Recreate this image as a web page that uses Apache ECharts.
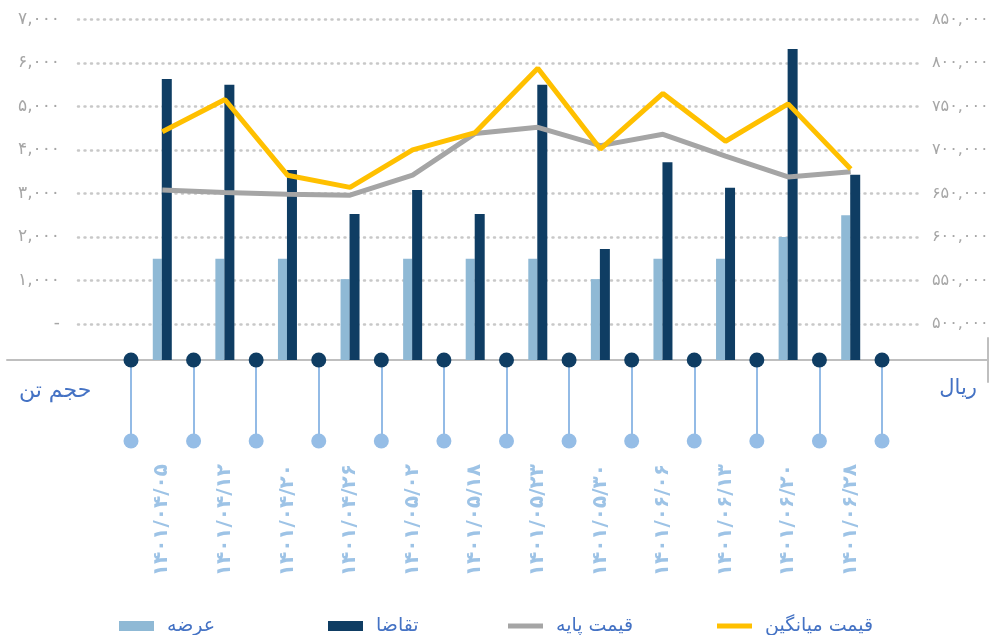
<!DOCTYPE html>
<html>
<head>
<meta charset="utf-8">
<script src="https://cdn.jsdelivr.net/npm/echarts@6/dist/echarts.min.js"></script>
<style>html,body{margin:0;padding:0;background:#fff;}#c{width:995px;height:635px;}</style>
</head>
<body>
<div id="c"></div>
<script>
const categories = ['۱۴۰۱/۰۴/۰۵','۱۴۰۱/۰۴/۱۲','۱۴۰۱/۰۴/۲۰','۱۴۰۱/۰۴/۲۶','۱۴۰۱/۰۵/۰۲','۱۴۰۱/۰۵/۱۸','۱۴۰۱/۰۵/۲۳','۱۴۰۱/۰۵/۳۰','۱۴۰۱/۰۶/۰۶','۱۴۰۱/۰۶/۱۳','۱۴۰۱/۰۶/۲۰','۱۴۰۱/۰۶/۲۸'];
const supply = [1500,1500,1500,1030,1500,1500,1500,1030,1500,1500,2000,2500];
const demand = [5630,5500,3540,2530,3080,2530,5500,1720,3720,3130,6320,3430];
const basePrice = [654000,651000,649000,648000,671000,719000,726000,705000,718000,693000,669000,675000];
const avgPrice = [721000,758000,671000,657000,700000,720000,794000,701000,765000,710000,753000,678000];
const seriesNames = ['عرضه','تقاضا','قیمت پایه','قیمت میانگین'];
const leftTitle = 'حجم تن';
const rightTitle = 'ریال';
// decoration slots at category boundaries (0..12)
const tickSlots = [0,1,2,3,4,5,6,7,8,9,10,11,12];

const FONT = 'DejaVu Sans';
const fa = s => String(s).replace(/\d/g, d => '۰۱۲۳۴۵۶۷۸۹'[+d]);
const LMIN = -830, LMAX = 7000, RMIN = 458500, RMAX = 850000;

const chart = echarts.init(document.getElementById('c'), null, {renderer: 'canvas'});
const gridTop = 19.5, gridBottom = 275;
const legendCommon = {
  orient: 'horizontal', top: 608, itemWidth: 35, itemHeight: 10, icon: 'rect',
  textStyle: {color: '#4472c4', fontSize: 19, fontFamily: FONT, lineHeight: 26, padding: [0,0,0,8]},
  selectedMode: false
};
chart.setOption({
  animation: false,
  backgroundColor: '#ffffff',
  textStyle: {fontFamily: FONT},
  title: [
    {text: leftTitle, left: 14, top: 375, textStyle: {color: '#4472c4', fontSize: 22, fontWeight: 'normal', fontFamily: FONT}},
    {text: rightTitle, right: 13, top: 373, textStyle: {color: '#4472c4', fontSize: 21, fontWeight: 'normal', fontFamily: FONT}}
  ],
  legend: [
    Object.assign({}, legendCommon, {left: 114, data: [seriesNames[0]]}),
    Object.assign({}, legendCommon, {left: 323, data: [seriesNames[1]]}),
    Object.assign({}, legendCommon, {left: 503, itemHeight: 5, data: [seriesNames[2]]}),
    Object.assign({}, legendCommon, {left: 712, itemHeight: 5, data: [seriesNames[3]]})
  ],
  grid: [
    {left: 78, right: 73, top: gridTop, bottom: gridBottom},
    {left: 131, right: 113, top: gridTop, bottom: gridBottom},
    {left: 131, right: 113, top: 360, height: 81},
    {left: 7, right: 7, top: 338, height: 44}
  ],
  xAxis: [
    {type: 'category', gridIndex: 1, data: categories, boundaryGap: true,
     axisLine: {show: false, onZero: false},
     axisTick: {show: true, alignWithLabel: false, length: 81, lineStyle: {color: '#93bbe6', width: 2}},
     axisLabel: {rotate: 90, margin: 104, color: '#9dc3e6', fontSize: 20, fontWeight: 'bold', fontFamily: FONT, interval: 0},
     splitLine: {show: false}},
    {type: 'value', gridIndex: 0, min: 0, max: 1, show: false},
    {type: 'value', gridIndex: 2, min: 0, max: 12, show: false},
    {type: 'value', gridIndex: 3, min: 0, max: 1, position: 'bottom', offset: -22,
     axisLine: {show: true, onZero: false, lineStyle: {color: '#bfbfbf', width: 2}},
     axisTick: {show: false}, axisLabel: {show: false}, splitLine: {show: false}}
  ],
  yAxis: [
    {type: 'value', gridIndex: 0, position: 'left', min: LMIN, max: LMAX, minInterval: 1000, maxInterval: 1000,
     axisLine: {show: false}, axisTick: {show: false},
     axisLabel: {margin: 18, color: '#a6a6a6', fontSize: 17, fontFamily: FONT,
       formatter: v => v < 0 ? '' : (v === 0 ? '-' : fa(v.toLocaleString('en-US')))},
     splitLine: {show: true, showMinLine: false, lineStyle: {type: [1, 5.5], width: 2.5, cap: 'round', color: '#c8c8c8'}}},
    {type: 'value', gridIndex: 0, position: 'right', min: RMIN, max: RMAX, minInterval: 50000, maxInterval: 50000,
     axisLine: {show: false}, axisTick: {show: false},
     axisLabel: {margin: 10, color: '#a6a6a6', fontSize: 16, fontFamily: FONT,
       formatter: v => v < 500000 ? '' : fa(v.toLocaleString('en-US'))},
     splitLine: {show: false}},
    {type: 'value', gridIndex: 1, min: LMIN, max: LMAX, startValue: LMIN, show: false},
    {type: 'value', gridIndex: 1, min: RMIN, max: RMAX, show: false},
    {type: 'value', gridIndex: 2, min: 0, max: 1, show: false},
    {type: 'value', gridIndex: 3, min: 0, max: 1, position: 'right',
     axisLine: {show: true, onZero: false, lineStyle: {color: '#bfbfbf', width: 2}},
     axisTick: {show: false}, axisLabel: {show: false}, splitLine: {show: false}}
  ],
  series: [
    {name: seriesNames[0], type: 'bar', xAxisIndex: 0, yAxisIndex: 2, data: supply,
     barWidth: 9, barGap: '0%', itemStyle: {color: '#8fb9d5'}, z: 2},
    {name: seriesNames[1], type: 'bar', xAxisIndex: 0, yAxisIndex: 2, data: demand,
     barWidth: 10, barGap: '0%', itemStyle: {color: '#0f3d63'}, z: 2},
    {name: seriesNames[2], type: 'line', xAxisIndex: 0, yAxisIndex: 3, data: basePrice,
     symbol: 'none', lineStyle: {color: '#a5a5a5', width: 5}, itemStyle: {color: '#a5a5a5'}, z: 3},
    {name: seriesNames[3], type: 'line', xAxisIndex: 0, yAxisIndex: 3, data: avgPrice,
     symbol: 'none', lineStyle: {color: '#ffc000', width: 5}, itemStyle: {color: '#ffc000'}, z: 4},
    {name: 'dotsTop', type: 'scatter', xAxisIndex: 2, yAxisIndex: 4, clip: false,
     data: tickSlots.map(i => [i, 1]), symbolSize: 15, itemStyle: {color: '#0f3d63', opacity: 1}, z: 5, silent: true},
    {name: 'dotsBottom', type: 'scatter', xAxisIndex: 2, yAxisIndex: 4, clip: false,
     data: tickSlots.map(i => [i, 0]), symbolSize: 15, itemStyle: {color: '#95bde6', opacity: 1}, z: 5, silent: true}
  ]
});
</script>
</body>
</html>
